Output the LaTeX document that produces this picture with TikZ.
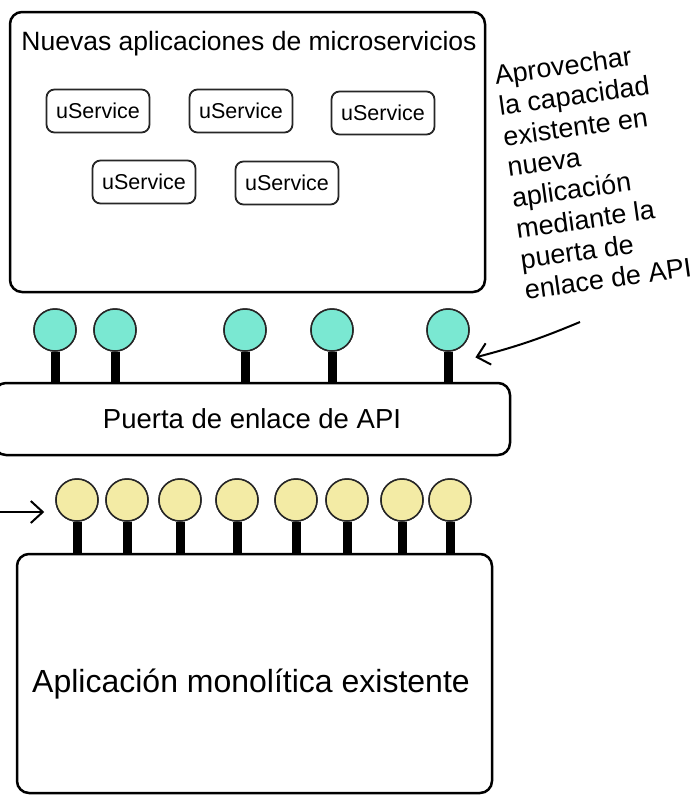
\documentclass[tikz,border=0pt]{standalone}
\usepackage{fontspec}
\setmainfont{Liberation Sans}
\usetikzlibrary{arrows.meta,positioning,calc}

\definecolor{tealport}{RGB}{122,232,210}
\definecolor{yellowport}{RGB}{243,235,165}

\begin{document}
\begin{tikzpicture}[x=1pt, y=-1pt,
    big_box/.style={rectangle, draw=black, line width=2.5pt, rounded corners=12pt, inner sep=0pt},
    svc_box/.style={rectangle, draw=black!85, line width=1.8pt, rounded corners=8pt, minimum width=103pt, minimum height=43pt, inner sep=0pt, font=\fontsize{21.5}{24}\selectfont},
    teal_port/.style={circle, draw=black!85, fill=tealport, line width=1.5pt, minimum size=42pt, inner sep=0pt},
    yellow_port/.style={circle, draw=black!85, fill=yellowport, line width=1.5pt, minimum size=42pt, inner sep=0pt},
    stem/.style={line width=9pt, color=black},
    note_arrow/.style={line width=2pt, -{Straight Barb[length=12pt, width=22pt, line width=2pt]}}
]
\useasboundingbox (0,0) rectangle (696,796);
\clip (0,0) rectangle (696,796);

% Top: microservices box
\node[big_box, minimum width=475pt, minimum height=280pt] (micro) at (247.5,152) {};
\node[font=\fontsize{26.5}{30}\selectfont] (title) at (249,44) {Nuevas aplicaciones de microservicios};

\node[svc_box] (svc1) at (98,111) {uService};
\node[svc_box] (svc2) at (241,111) {uService};
\node[svc_box] (svc3) at (383,113) {uService};
\node[svc_box] (svc4) at (144,182) {uService};
\node[svc_box] (svc5) at (287,183) {uService};

% Middle: API gateway
\node[big_box, minimum width=516pt, minimum height=72pt, font=\fontsize{27.5}{30}\selectfont] (gateway) at (252,419) {Puerta de enlace de API};

\foreach \i/\x in {1/55, 2/115, 3/245, 4/332, 5/448} {
  \node[teal_port] (tp\i) at (\x,330) {};
  \draw[stem] (tp\i.south) -- (tp\i.south |- gateway.north);
  \node[teal_port] at (tp\i) {};
}

% Bottom: monolith
\node[big_box, minimum width=475pt, minimum height=239pt] (mono) at (254.5,673.5) {};
\node[font=\fontsize{32}{36}\selectfont] (mono_label) at (251,684) {Aplicación monolítica existente};

\foreach \i/\x in {1/77, 2/127, 3/180, 4/237, 5/296, 6/347, 7/402, 8/450} {
  \node[yellow_port] (yp\i) at (\x,500) {};
  \draw[stem] (yp\i.south) -- (yp\i.south |- mono.north);
  \node[yellow_port] at (yp\i) {};
}

% Note on the right
\node[rotate=8, align=left, font=\fontsize{27}{31}\selectfont] (note) at (593,171) {Aprovechar\\la capacidad\\existente en\\nueva\\aplicación\\mediante la\\puerta de\\enlace de API};

\coordinate (note_tail) at (580,322);
\coordinate (note_tip) at ($(tp5.south east)+(12,12)$);
\draw[note_arrow] (note_tail) to[bend left=4] (note_tip);

% Arrow on the left
\coordinate (left_tail) at (-5,512);
\coordinate (left_tip) at ($(yp1.west)+(-11,12)$);
\draw[note_arrow] (left_tail) -- (left_tip);

\end{tikzpicture}
\end{document}
